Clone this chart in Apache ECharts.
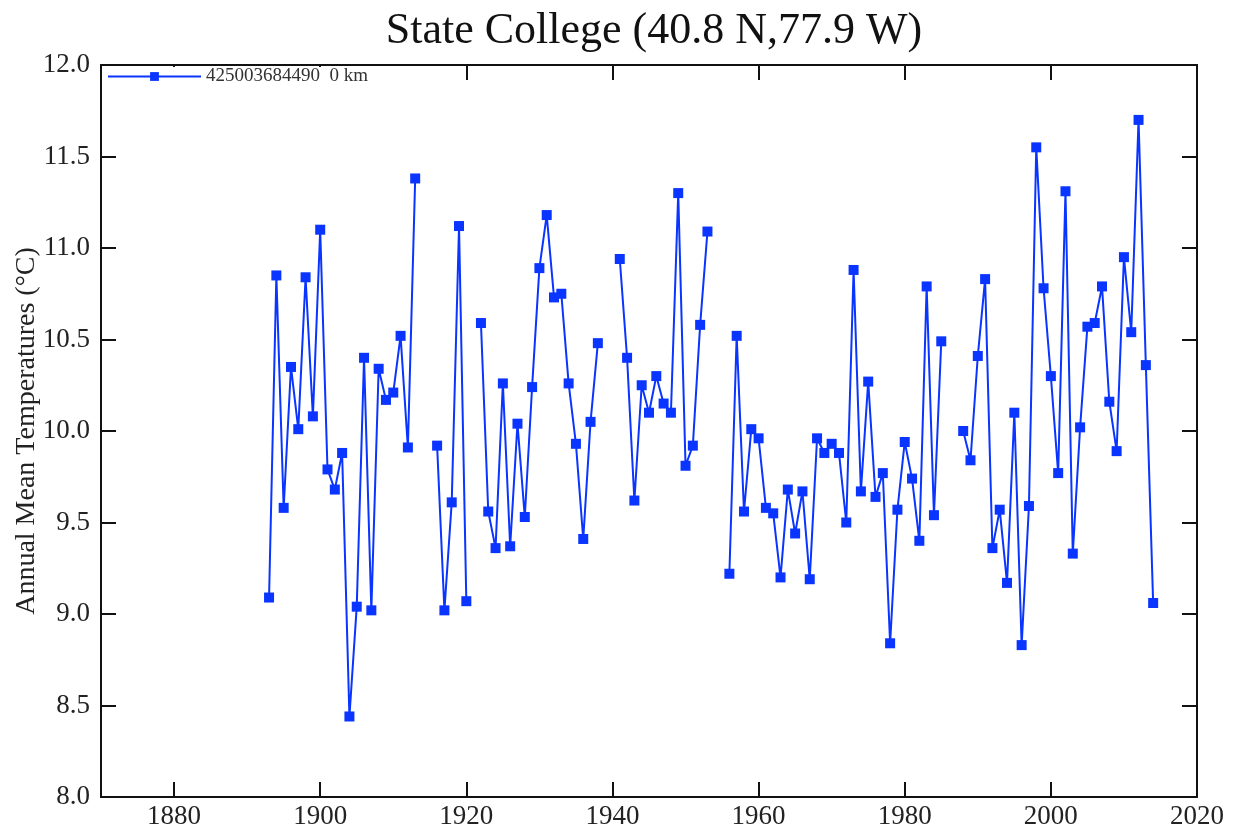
<!DOCTYPE html>
<html>
<head>
<meta charset="utf-8">
<script src="https://cdn.jsdelivr.net/npm/echarts@6/dist/echarts.min.js"></script>
<style>
 html,body{margin:0;padding:0;background:#fff;}
 #main{width:1239px;height:834px;}
</style>
</head>
<body>
<div id="main"></div>
<script>
 //年份与年平均气温（缺测年份为 null）
 var years = [1893,1894,1895,1896,1897,1898,1899,1900,1901,1902,1903,1904,1905,1906,1907,1908,1909,1910,1911,1912,1913,1914,1915,
	1916,1917,1918,1919,1920,1921,1922,1923,1924,1925,1926,1927,1928,1929,1930,1931,1932,1933,1934,1935,1936,1937,1938,1939,1940,
	1941,1942,1943,1944,1945,1946,1947,1948,1949,1950,1951,1952,1953,1954,1955,
	1956,1957,1958,1959,1960,1961,1962,1963,1964,1965,1966,1967,1968,1969,1970,1971,1972,1973,1974,1975,1976,1977,1978,1979,
	1980,1981,1982,1983,1984,1985,1986,1987,
	1988,1989,1990,1991,1992,1993,1994,1995,1996,1997,1998,1999,2000,2001,2002,2003,2004,2005,2006,2007,2008,2009,2010,2011,2012,2013,2014];
 var temps = [9.09,10.85,9.58,10.35,10.01,10.84,10.08,11.10,9.79,9.68,9.88,8.44,9.04,10.40,9.02,10.34,10.17,10.21,10.52,9.91,11.38,null,null,
	9.92,9.02,9.61,11.12,9.07,null,10.59,9.56,9.36,10.26,9.37,10.04,9.53,10.24,10.89,11.18,10.73,10.75,10.26,9.93,9.41,10.05,10.48,null,null,
	10.94,10.40,9.62,10.25,10.10,10.30,10.15,10.10,11.30,9.81,9.92,10.58,11.09,null,null,
	9.22,10.52,9.56,10.01,9.96,9.58,9.55,9.20,9.68,9.44,9.67,9.19,9.96,9.88,9.93,9.88,9.50,10.88,9.67,10.27,9.64,9.77,8.84,9.57,
	9.94,9.74,9.40,10.79,9.54,10.49,null,null,
	10.00,9.84,10.41,10.83,9.36,9.57,9.17,10.10,8.83,9.59,11.55,10.78,10.30,9.77,11.31,9.33,10.02,10.57,10.59,10.79,10.16,9.89,10.95,10.54,11.70,10.36,9.06];
 var yearTicks = [1880,1900,1920,1940,1960,1980,2000,2020];
 var stationName = '425003684490  0 km';

 var seriesData = [];
 for (var i = 0; i < years.length; i++) {
	seriesData.push([years[i], temps[i]]);
 }

 var myChart = echarts.init(document.getElementById('main'));
 var serif = 'Liberation Serif';
 var option = {
	animation: false,
	title: {
		text: 'State College (40.8 N,77.9 W)',
		left: 649,
		textAlign: 'center',
		top: 4,
		textStyle: {color: '#111', fontFamily: serif, fontSize: 44, fontWeight: 'normal'}
	},
	legend: {
		left: 104,
		top: 67,
		padding: [0, 3, 0, 3],
		backgroundColor: '#fff',
		itemWidth: 93,
		itemHeight: 11,
		itemGap: 5,
		textStyle: {color: '#333', fontFamily: serif, fontSize: 19},
		data: [stationName]
	},
	grid: {
		left: 101,
		right: 42,
		top: 65,
		bottom: 37,
		outerBoundsMode: 'none'
	},
	xAxis: [
		{
			type: 'value',
			min: 1870,
			max: 2020,
			axisLine: {lineStyle: {color: '#111', width: 2}},
			axisTick: {inside: true, length: 15, customValues: yearTicks, lineStyle: {color: '#111', width: 2}},
			axisLabel: {color: '#222', fontFamily: serif, fontSize: 27, margin: 6, customValues: yearTicks,
				formatter: function (v) { return String(v); }},
			splitLine: {show: false}
		},
		{
			type: 'value',
			position: 'top',
			min: 1870,
			max: 2020,
			axisLine: {show: true, lineStyle: {color: '#111', width: 2}},
			axisTick: {inside: true, length: 15, customValues: yearTicks, lineStyle: {color: '#111', width: 2}},
			axisLabel: {show: false},
			splitLine: {show: false}
		}
	],
	yAxis: [
		{
			type: 'value',
			min: 8,
			max: 12,
			interval: 0.5,
			name: 'Annual Mean Temperatures (°C)',
			nameLocation: 'middle',
			nameGap: 60,
			nameMoveOverlap: false,
			nameTextStyle: {color: '#222', fontFamily: serif, fontSize: 28},
			axisLine: {lineStyle: {color: '#111', width: 2}},
			axisTick: {inside: true, length: 15, lineStyle: {color: '#111', width: 2}},
			axisLabel: {color: '#222', fontFamily: serif, fontSize: 27, margin: 11,
				formatter: function (v) { return v.toFixed(1); }},
			splitLine: {show: false}
		},
		{
			type: 'value',
			position: 'right',
			min: 8,
			max: 12,
			interval: 0.5,
			axisLine: {show: true, lineStyle: {color: '#111', width: 2}},
			axisTick: {inside: true, length: 15, lineStyle: {color: '#111', width: 2}},
			axisLabel: {show: false},
			splitLine: {show: false}
		}
	],
	series: [
		{
			name: stationName,
			type: 'line',
			data: seriesData,
			connectNulls: false,
			symbol: 'rect',
			symbolSize: 10,
			color: '#0a34ff',
			lineStyle: {width: 2, color: '#0a34ff'},
			itemStyle: {color: '#0a34ff'}
		}
	]
 };
 myChart.setOption(option, true);
</script>
</body>
</html>
